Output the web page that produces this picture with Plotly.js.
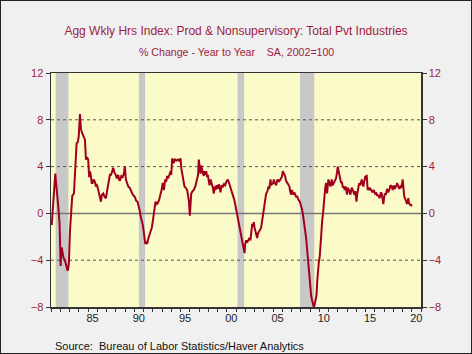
<!DOCTYPE html>
<html>
<head>
<meta charset="utf-8">
<script src="https://cdn.plot.ly/plotly-3.0.1.min.js"></script>
<style>
html,body{margin:0;padding:0;background:#f0f0f0;}
#chart{width:472px;height:354px;box-sizing:border-box;border:1px solid #222;}
</style>
</head>
<body>
<div id="chart"></div>
<script>
// Year (decimal) and % change year-to-year
const years = [1981.08,1981.2,1981.35,1981.46,1981.55,1981.64,1981.8,1981.93,1982.0,1982.04,1982.15,1982.25,1982.36,1982.5,1982.58,1982.7,1982.8,1982.88,1982.94,1983.05,1983.15,1983.3,1983.48,1983.6,1983.77,1983.9,1984.0,1984.13,1984.24,1984.35,1984.48,1984.6,1984.67,1984.78,1984.9,1985.02,1985.13,1985.2,1985.28,1985.4,1985.5,1985.6,1985.75,1985.85,1985.93,1986.05,1986.2,1986.3,1986.4,1986.5,1986.65,1986.8,1986.94,1987.08,1987.2,1987.37,1987.5,1987.6,1987.73,1987.85,1988.0,1988.1,1988.27,1988.35,1988.45,1988.6,1988.74,1988.85,1988.99,1989.1,1989.2,1989.35,1989.5,1989.6,1989.71,1989.85,1990.07,1990.2,1990.36,1990.5,1990.6,1990.68,1990.8,1990.9,1991.05,1991.19,1991.3,1991.4,1991.5,1991.65,1991.75,1991.9,1992.0,1992.12,1992.2,1992.3,1992.45,1992.55,1992.7,1992.84,1992.95,1993.09,1993.2,1993.35,1993.45,1993.56,1993.65,1993.8,1993.92,1994.0,1994.1,1994.2,1994.28,1994.35,1994.43,1994.55,1994.71,1994.85,1995.0,1995.1,1995.25,1995.35,1995.43,1995.55,1995.72,1995.8,1995.9,1996.01,1996.08,1996.16,1996.3,1996.44,1996.6,1996.7,1996.8,1996.9,1996.98,1997.05,1997.16,1997.25,1997.31,1997.4,1997.52,1997.6,1997.7,1997.78,1997.88,1997.96,1998.05,1998.14,1998.25,1998.39,1998.5,1998.6,1998.7,1998.78,1998.9,1999.04,1999.15,1999.25,1999.32,1999.45,1999.58,1999.7,1999.83,1999.95,2000.12,2000.25,2000.4,2000.5,2000.66,2000.8,2000.91,2001.0,2001.12,2001.2,2001.3,2001.4,2001.48,2001.6,2001.74,2001.82,2001.92,2002.0,2002.1,2002.2,2002.35,2002.45,2002.56,2002.65,2002.75,2002.85,2002.93,2003.0,2003.07,2003.18,2003.29,2003.38,2003.47,2003.6,2003.72,2003.8,2003.9,2004.0,2004.08,2004.18,2004.26,2004.4,2004.51,2004.6,2004.73,2004.8,2004.91,2005.0,2005.09,2005.2,2005.34,2005.45,2005.52,2005.65,2005.81,2005.95,2006.06,2006.15,2006.31,2006.4,2006.53,2006.65,2006.78,2006.85,2006.96,2007.05,2007.21,2007.3,2007.4,2007.5,2007.6,2007.7,2007.79,2007.9,2008.04,2008.12,2008.22,2008.3,2008.4,2008.5,2008.58,2008.68,2008.76,2008.85,2008.94,2009.04,2009.12,2009.22,2009.3,2009.41,2009.5,2009.6,2009.7,2009.78,2009.87,2009.95,2010.06,2010.15,2010.24,2010.32,2010.41,2010.5,2010.56,2010.65,2010.74,2010.85,2010.92,2010.99,2011.1,2011.21,2011.3,2011.35,2011.45,2011.57,2011.7,2011.82,2011.92,2012.0,2012.1,2012.18,2012.28,2012.36,2012.45,2012.55,2012.65,2012.75,2012.85,2013.0,2013.08,2013.15,2013.25,2013.37,2013.5,2013.62,2013.7,2013.8,2013.9,2014.02,2014.1,2014.16,2014.25,2014.34,2014.45,2014.59,2014.68,2014.77,2014.88,2014.99,2015.06,2015.13,2015.2,2015.24,2015.35,2015.45,2015.53,2015.65,2015.78,2015.9,2016.03,2016.15,2016.25,2016.32,2016.45,2016.54,2016.65,2016.75,2016.85,2016.93,2017.02,2017.11,2017.2,2017.33,2017.45,2017.58,2017.7,2017.83,2017.95,2018.05,2018.15,2018.3,2018.42,2018.55,2018.65,2018.77,2018.9,2019.02,2019.08,2019.13,2019.2,2019.27,2019.38,2019.49,2019.56,2019.63,2019.7,2019.81,2019.9,2019.99];
const values = [-1.0,0.5,2.5,3.4,2.6,2.0,0.5,-0.9,-2.5,-4.5,-2.9,-3.3,-3.8,-4.0,-4.2,-4.5,-4.9,-4.6,-4.2,-1.5,0,1.5,1.7,4.0,6.0,6.1,6.6,8.5,7.2,6.9,6.6,6.5,6.3,4.6,4.8,4.6,3.1,3.6,3.4,2.6,2.6,2.9,2.7,2.3,2.5,2.2,1.6,1.4,1.0,1.6,1.7,1.4,1.3,2.0,2.6,3.3,3.3,3.5,3.9,3.5,3.3,3.0,3.3,2.9,2.8,3.2,3.1,3.3,4.0,2.9,2.7,2.3,2.2,2.0,1.9,1.6,1.4,1.1,1.0,0.6,0.2,-0.2,-0.6,-0.9,-1.7,-2.6,-2.5,-2.6,-2.2,-1.8,-1.7,-1.2,-0.7,0,0.6,1.0,0.8,0.9,1.2,1.6,2.0,2.6,2.0,2.9,2.7,3.2,3.0,3.3,3.6,3.3,4.7,4.4,4.3,4.6,4.6,4.5,4.6,4.5,4.7,3.8,2.9,2.6,2.3,2.2,2.0,1.6,1.1,-0.2,1.0,1.7,1.9,2.0,2.3,2.6,2.9,3.3,4.6,3.8,3.4,4.1,3.7,3.5,3.2,3.6,3.3,3.6,3.1,3.3,2.8,2.4,2.9,2.6,2.2,1.7,2.3,2.0,2.4,2.1,2.5,2.2,1.8,2.4,2.3,2.5,2.4,2.7,2.9,2.6,2.2,2.0,1.7,1.2,0.8,0.4,0,-0.3,-0.9,-1.3,-1.8,-2.1,-2.6,-3.2,-3.4,-2.6,-2.3,-2.5,-2.2,-2.1,-2.3,-1.4,-0.9,-1.1,-0.75,-1.2,-1.5,-1.8,-2.1,-1.7,-1.5,-1.4,-1.2,-0.8,-0.3,0.3,0.8,1.2,1.7,1.9,2.3,2.1,2.9,2.4,2.6,2.5,2.9,2.6,2.4,2.8,2.9,2.7,3.0,3.1,3.6,3.4,3.2,2.8,2.6,2.5,2.3,1.9,1.6,2.0,1.6,1.8,1.5,1.4,1.5,1.2,1.1,1.0,0.7,0.4,0,-0.4,-0.9,-1.5,-2.1,-3.0,-3.8,-4.7,-5.5,-6.4,-7.0,-7.4,-7.7,-8.0,-7.8,-7.5,-7.0,-5.8,-4.6,-4.2,-3.6,-2.2,-1.6,-0.6,0,1.0,1.7,2.2,2.6,1.7,2.4,2.9,2.6,2.3,2.6,2.9,2.4,2.6,2.9,3.0,3.5,4.0,3.6,3.2,2.9,2.6,2.7,2.2,2.3,2.0,2.3,1.6,2.2,2.1,1.9,1.6,2.2,2.0,1.7,1.6,1.9,1.0,1.6,2.0,2.3,2.6,2.4,2.9,2.6,2.3,2.8,3.2,2.9,3.3,2.4,2.0,2.2,2.0,2.1,1.9,1.8,2.0,1.7,1.8,1.5,1.6,1.4,1.3,1.8,1.7,1.2,0.8,1.4,1.7,1.6,2.1,1.8,2.0,2.4,2.3,2.0,2.4,2.1,2.3,2.6,2.3,2.1,2.3,2.2,2.9,2.2,1.6,1.4,1.3,1.1,0.8,1.0,1.3,0.9,0.7,0.8,0.6];

// Recessions (NBER), decimal years
const recessionStart = [1981.5, 1990.5, 2001.17, 2007.92];
const recessionEnd   = [1982.88, 1991.17, 2001.88, 2009.46];

// Axis ticks
const xTickVals = [1985.5, 1990.5, 1995.5, 2000.5, 2005.5, 2010.5, 2015.5, 2020.5];
const xTickText = ['85','90','95','00','05','10','15','20'];
const yTickVals = [-8, -4, 0, 4, 8, 12];

const red = '#a01c3c';
const font = 'Liberation Sans, Arial, sans-serif';

const shapes = recessionStart.map((s, i) => ({
  type: 'rect', xref: 'x', yref: 'paper', x0: s, x1: recessionEnd[i], y0: 0, y1: 1,
  fillcolor: '#c8c8c8', line: {width: 0}, layer: 'below'
}));
[-4, 4, 8].forEach(v => shapes.push({
  type: 'line', xref: 'paper', yref: 'y', x0: 0, x1: 1, y0: v, y1: v,
  line: {color: '#555', width: 1, dash: 'dot'}, layer: 'below'
}));
shapes.push({type: 'line', xref: 'paper', yref: 'y', x0: 0, x1: 1, y0: 0, y1: 0,
  line: {color: '#777', width: 1.5}, layer: 'below'});

const trace = {
  x: years, y: values, type: 'scatter', mode: 'lines',
  line: {color: '#a0001e', width: 2}, hoverinfo: 'skip'
};
// same series bound to the right-hand axis so its ticks are drawn (invisible)
const traceRight = {
  x: years, y: values, type: 'scatter', mode: 'lines', yaxis: 'y2',
  line: {color: 'rgba(0,0,0,0)', width: 0}, hoverinfo: 'skip'
};

const layout = {
  width: 470, height: 352,
  margin: {l: 50, r: 50, t: 72, b: 46},
  paper_bgcolor: '#f0f0f0', plot_bgcolor: '#fbfac9',
  showlegend: false,
  font: {family: font, color: red, size: 11},
  title: {text: 'Agg Wkly Hrs Index: Prod &amp; Nonsupervisory: Total Pvt Industries',
    font: {family: font, size: 12, color: red}, x: 0.5, xanchor: 'center',
    y: 0.915, yanchor: 'middle', yref: 'container'},
  xaxis: {range: [1981.0, 2021.0], tickmode: 'array', tickvals: xTickVals, ticktext: xTickText,
    ticks: '', showgrid: false, zeroline: false, showline: true, linecolor: '#333', linewidth: 1.5,
    mirror: true, tickfont: {color: '#222', size: 11, family: font},
    minor: {tick0: 1981, dtick: 1, ticks: 'outside', ticklen: 3, tickcolor: '#333', showgrid: false}},
  yaxis: {range: [-8, 12], tickmode: 'array', tickvals: yTickVals, ticks: 'outside', ticklen: 4,
    tickcolor: '#333', showgrid: false, zeroline: false, showline: true, linecolor: '#333',
    linewidth: 1.5, tickfont: {color: red, size: 11, family: font}},
  yaxis2: {range: [-8, 12], overlaying: 'y', side: 'right', tickmode: 'array', tickvals: yTickVals,
    ticks: 'outside', ticklen: 4, tickcolor: '#333', showgrid: false, zeroline: false,
    showline: true, linecolor: '#333', linewidth: 1.5, tickfont: {color: red, size: 11, family: font}},
  shapes: shapes,
  annotations: [
    {text: '% Change - Year to Year&nbsp;&nbsp;&nbsp;&nbsp;SA, 2002=100', xref: 'paper', yref: 'paper',
      x: 0.5, y: 1.09, xanchor: 'center', yanchor: 'middle', showarrow: false,
      font: {family: font, size: 10.6, color: red}},
    {text: 'Source:  Bureau of Labor Statistics/Haver Analytics', xref: 'paper', yref: 'paper',
      x: 0.005, y: -0.167, xanchor: 'left', yanchor: 'middle', showarrow: false,
      font: {family: font, size: 11, color: '#111'}}
  ]
};

Plotly.newPlot('chart', [trace, traceRight], layout, {displayModeBar: false, staticPlot: true});
</script>
</body>
</html>
